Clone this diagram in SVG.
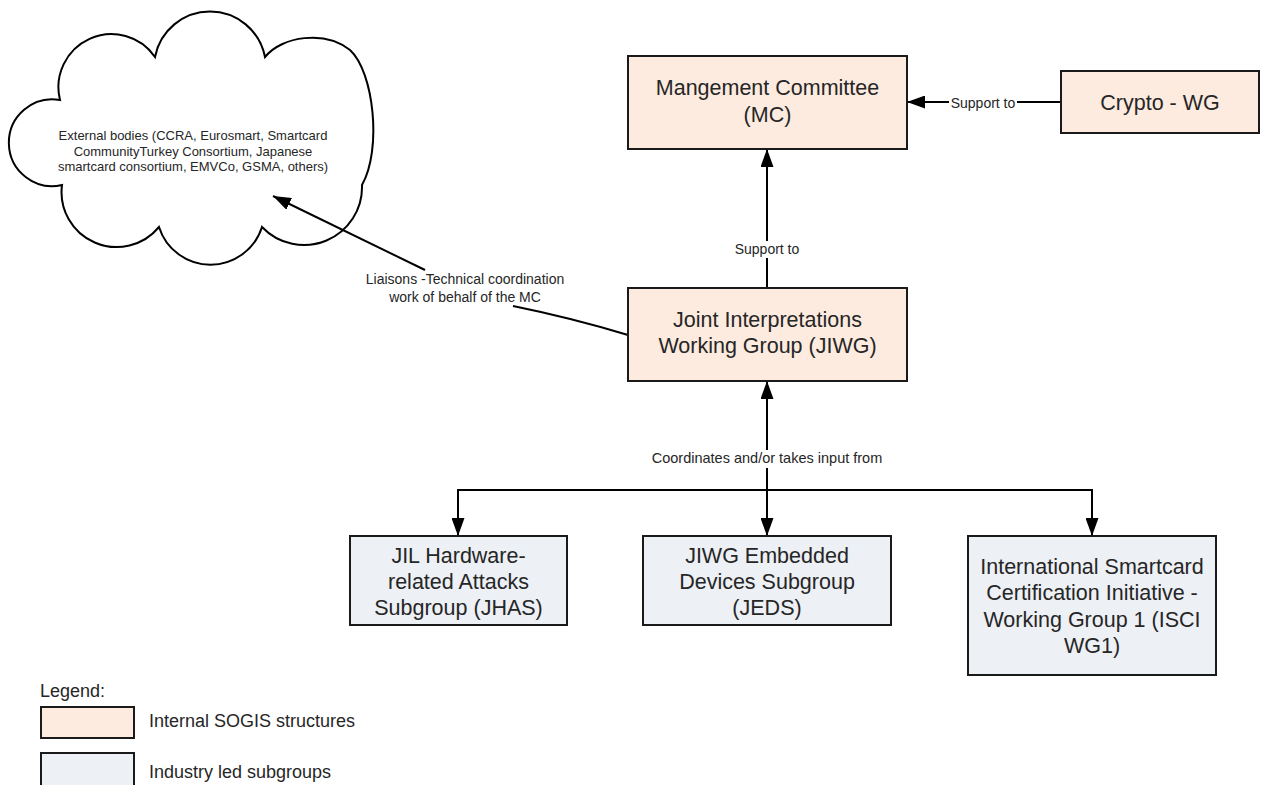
<svg xmlns="http://www.w3.org/2000/svg" width="1263" height="785" viewBox="0 0 1263 785">
<defs>
<marker id="arr" markerUnits="userSpaceOnUse" markerWidth="18" markerHeight="13" refX="18" refY="6.5" orient="auto">
<path d="M0,0 L18,6.5 L0,13 Z" fill="#000"/>
</marker>
<style>
.box{stroke:#1a1a1a;stroke-width:2}
.int{fill:#fdebdf}
.ind{fill:#edf0f5}
.t{font-family:"Liberation Sans",Arial,sans-serif;fill:#262626;text-anchor:middle}
.big{font-size:21.5px}
.lbl{font-size:14px}
.cl{font-size:13px}
.lg{font-size:18px;font-family:"Liberation Sans",Arial,sans-serif;fill:#262626}
.ln{stroke:#000;stroke-width:2;fill:none}
.bg{fill:#fff}
</style>
</defs>
<rect width="1263" height="785" fill="#fff"/>

<g id="cloud">
<path d="M60,100 A53,53 0 0 1 155,57 A56,56 0 0 1 265,57 C282,36 325,30 350,50 C374,72 382,150 362,185 A58,58 0 0 1 262,227 A54,54 0 0 1 159,227 A55,55 0 0 1 62,185 A43.4,43.4 0 1 1 60,100 Z" fill="#fff" stroke="#000" stroke-width="2"/>
<text class="t cl" x="193" y="139.5">External bodies (CCRA, Eurosmart, Smartcard</text>
<text class="t cl" x="193" y="155.5">CommunityTurkey Consortium, Japanese</text>
<text class="t cl" x="193" y="171">smartcard consortium, EMVCo, GSMA, others)</text>
</g>

<g id="connectors">
<path class="ln" d="M628,335 Q572,318 513,306"/>
<path class="ln" d="M425,270 L273,196" marker-end="url(#arr)"/>
<path class="ln" d="M1061,102 L907,102" marker-end="url(#arr)"/>
<path class="ln" d="M767,288 L767,149" marker-end="url(#arr)"/>
<path class="ln" d="M767,490 L767,381" marker-end="url(#arr)"/>
<path class="ln" d="M458,490 L1092,490"/>
<path class="ln" d="M458,489 L458,536" marker-end="url(#arr)"/>
<path class="ln" d="M767,489 L767,536" marker-end="url(#arr)"/>
<path class="ln" d="M1092,489 L1092,536" marker-end="url(#arr)"/>
<text class="t lbl" x="465" y="284">Liaisons -Technical coordination</text>
<text class="t lbl" x="465" y="302">work of behalf of the MC</text>
<rect class="bg" x="949" y="94" width="68" height="17"/>
<text class="t lbl" x="983" y="108">Support to</text>
<rect class="bg" x="740" y="241" width="54" height="17"/>
<text class="t lbl" x="767" y="254">Support to</text>
<rect class="bg" x="755" y="450" width="24" height="18"/>
<text class="t lbl" x="767" y="463" style="font-size:14.5px">Coordinates and/or takes input from</text>
</g>

<g id="mc">
<rect class="box int" x="628" y="56" width="279" height="93"/>
<text class="t big" x="767.5" y="95">Mangement Committee</text>
<text class="t big" x="767.5" y="122">(MC)</text>
</g>

<g id="crypto">
<rect class="box int" x="1061" y="71" width="198" height="62"/>
<text class="t big" x="1160" y="109.5">Crypto - WG</text>
</g>

<g id="jiwg">
<rect class="box int" x="628" y="288" width="279" height="93"/>
<text class="t big" x="767.5" y="327">Joint Interpretations</text>
<text class="t big" x="767.5" y="353">Working Group (JIWG)</text>
</g>

<g id="jhas">
<rect class="box ind" x="350" y="536" width="217" height="89"/>
<text class="t big" x="458.5" y="563">JIL Hardware-</text>
<text class="t big" x="458.5" y="589">related Attacks</text>
<text class="t big" x="458.5" y="615">Subgroup (JHAS)</text>
</g>

<g id="jeds">
<rect class="box ind" x="643" y="536" width="248" height="89"/>
<text class="t big" x="767" y="563">JIWG Embedded</text>
<text class="t big" x="767" y="589">Devices Subgroup</text>
<text class="t big" x="767" y="615">(JEDS)</text>
</g>

<g id="isci">
<rect class="box ind" x="968" y="536" width="248" height="139"/>
<text class="t big" x="1092" y="574">International Smartcard</text>
<text class="t big" x="1092" y="600">Certification Initiative -</text>
<text class="t big" x="1092" y="627">Working Group 1 (ISCI</text>
<text class="t big" x="1092" y="653">WG1)</text>
</g>

<g id="legend">
<text class="lg" x="40" y="697">Legend:</text>
<rect class="box int" x="41" y="707" width="93" height="31"/>
<text class="lg" x="149" y="727">Internal SOGIS structures</text>
<rect class="box ind" x="41" y="753" width="93" height="40"/>
<text class="lg" x="149" y="778">Industry led subgroups</text>
</g>
</svg>
